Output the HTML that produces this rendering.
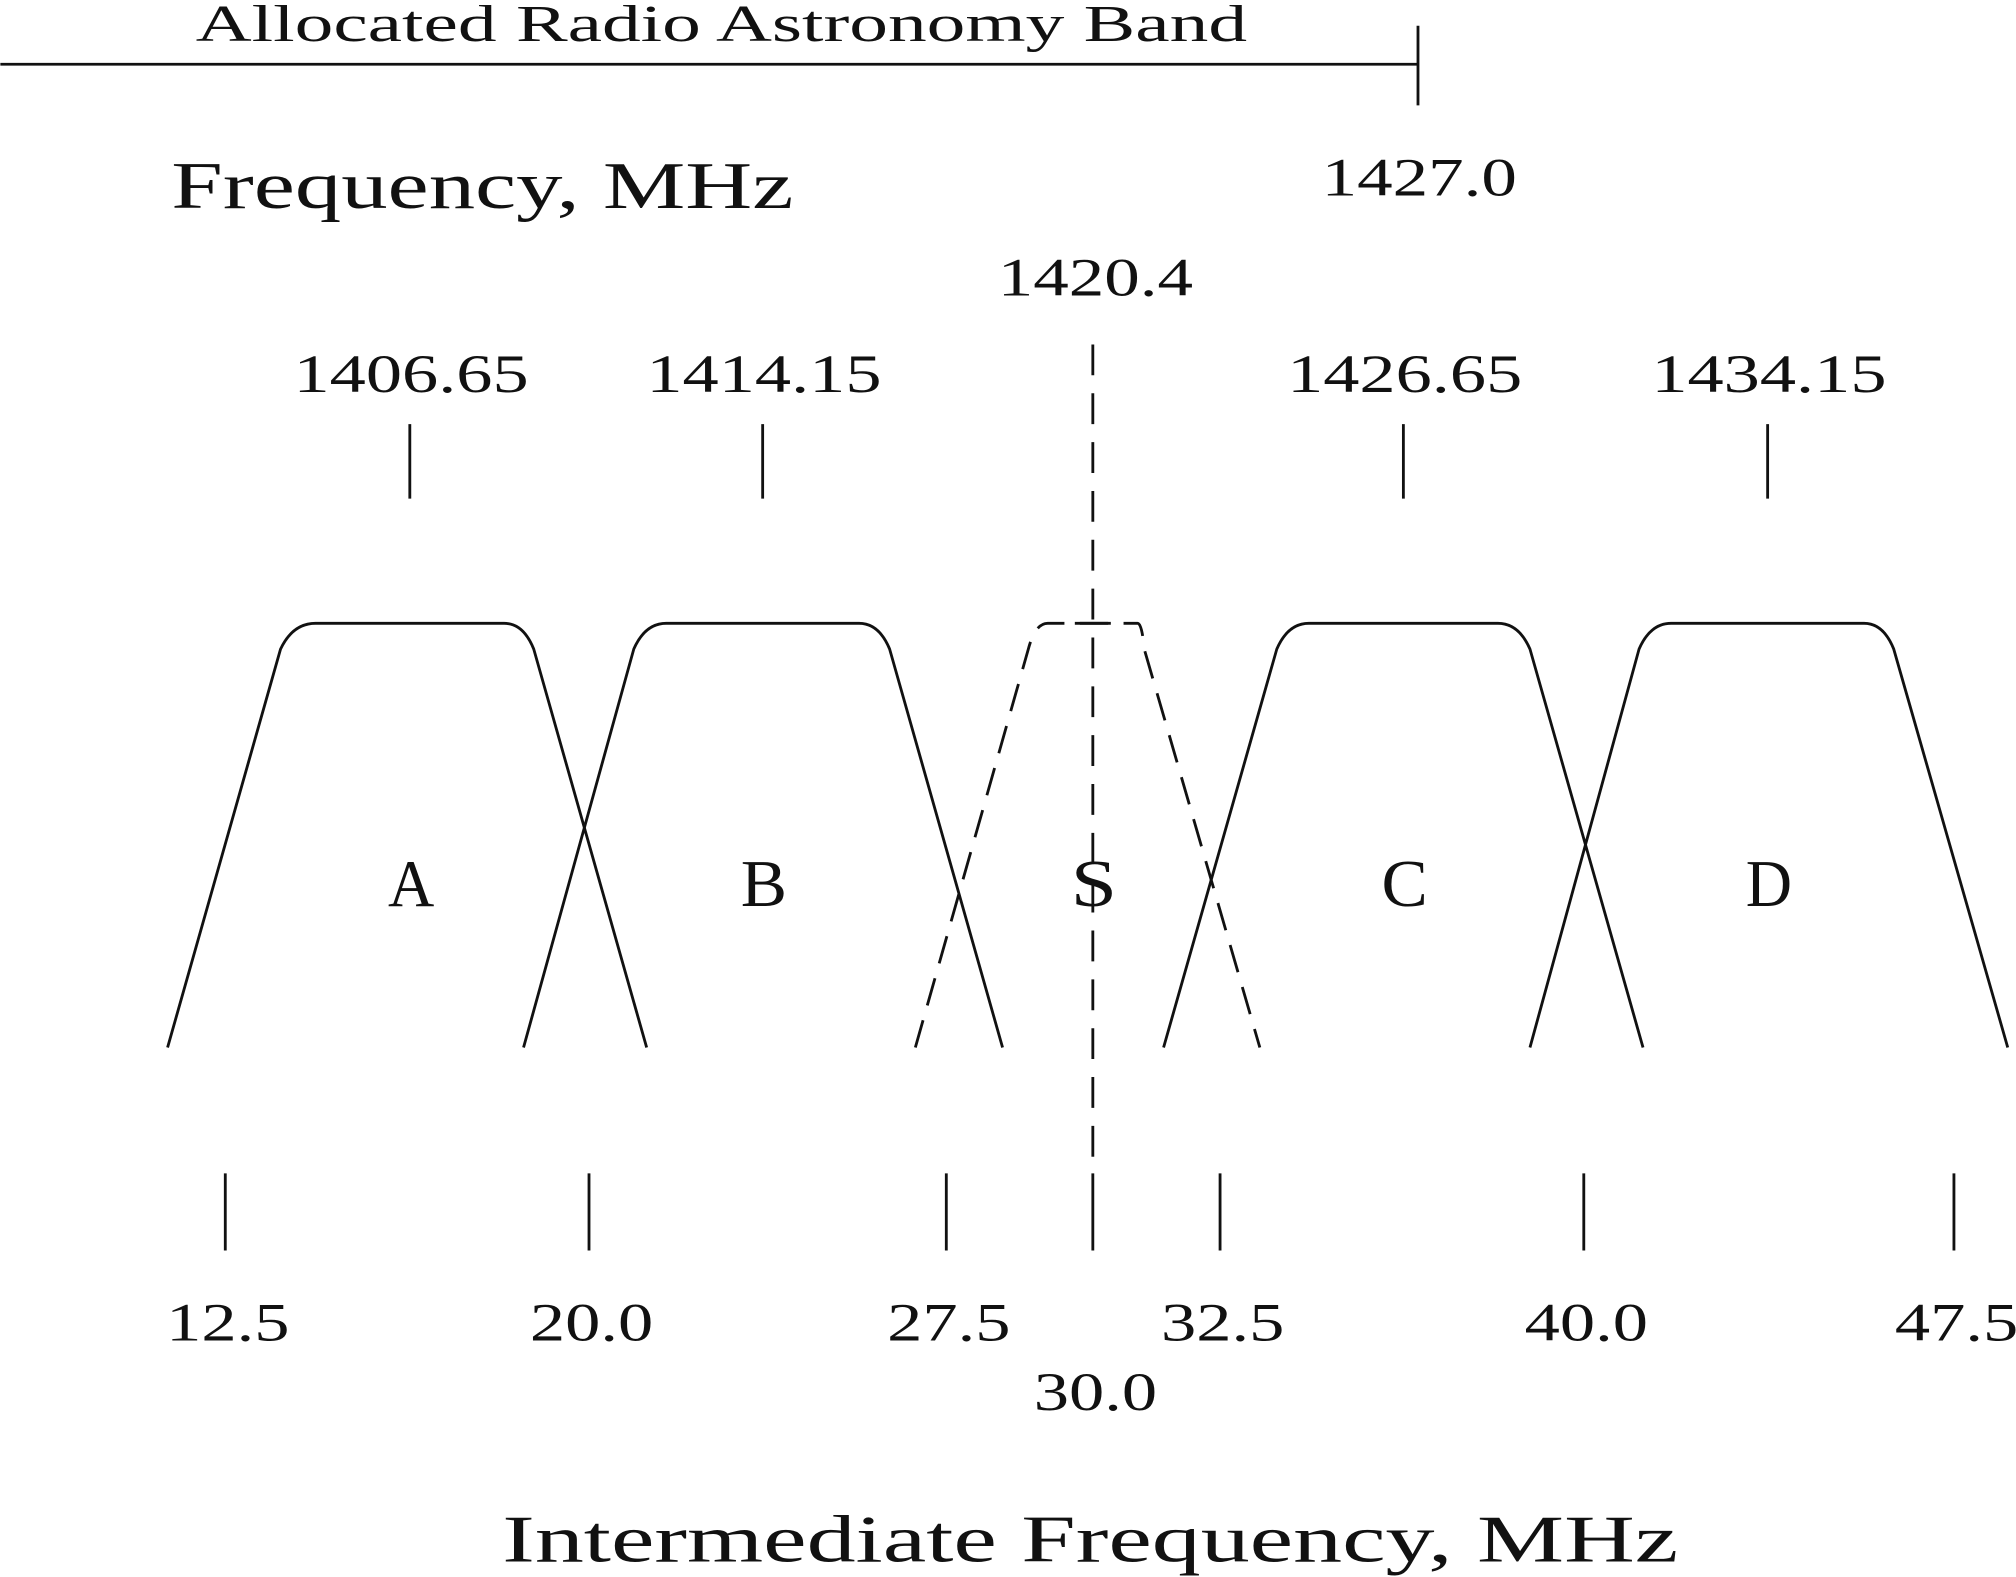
<!DOCTYPE html>
<html><head><meta charset="utf-8">
<style>
html,body{margin:0;padding:0;background:#fff;}
svg{display:block;}
text{font-family:"Liberation Serif",serif;fill:#111;}
</style></head>
<body>
<svg id="chart" width="2016" height="1577" viewBox="0 0 1568 1227" xmlns="http://www.w3.org/2000/svg">
<g id="g" stroke="#111" stroke-width="2.2" fill="none"></g>
<g id="t"></g>
</svg>
<script>
// IF axis ticks (MHz)
const ifTicks = [12.5, 20.0, 27.5, 30.0, 32.5, 40.0, 47.5];
const ifTickLabels = ["12.5", "20.0", "27.5", "30.0", "32.5", "40.0", "47.5"];
// filter names and edges in MHz: bottom-left, shoulder-left, top-left, top-right, shoulder-right, bottom-right
const filterNames = ["A", "B", "S", "C", "D"];
const filterBottomLeft = [11.31, 18.65, 26.85, 31.39, 38.89];
const filterShoulderLeft = [13.64, 20.94, 28.90, 33.67, 41.12];
const filterTopLeft = [14.36, 21.62, 29.23, 34.33, 41.77];
const filterTopRight = [18.25, 25.67, 30.88, 38.23, 45.68];
const filterShoulderRight = [18.86, 26.31, 31.01, 38.89, 46.28];
const filterBottomRight = [21.21, 28.46, 33.32, 41.20, 48.59];
const filterDashed = [false, false, true, false, false];
// RF centre labels (MHz) tied to filters A,B,C,D
const rfLabels = ["1406.65", "1414.15", "1426.65", "1434.15"];
const rfFilterIdx = [0, 1, 3, 4];

// schematic (piecewise-linear) IF axis scale, anchored at the tick values
const axisPx = [175, 458, 736, 850, 949, 1232, 1520];
function x(v) {
  const d = ifTicks;
  let i = 0;
  if (v <= d[0]) i = 0;
  else if (v >= d[d.length - 1]) i = d.length - 2;
  else { while (v > d[i + 1]) i++; }
  return axisPx[i] + (v - d[i]) * (axisPx[i + 1] - axisPx[i]) / (d[i + 1] - d[i]);
}
const NS = "http://www.w3.org/2000/svg";
const g = document.getElementById('g'), tg = document.getElementById('t');
function el(tag, attrs, parent) {
  const e = document.createElementNS(NS, tag);
  for (const k in attrs) e.setAttribute(k, attrs[k]);
  parent.appendChild(e); return e;
}
function txt(s, px, py, size, len, name) {
  const e = el('text', {x: px, y: py, 'font-size': size, 'text-anchor': 'middle', textLength: len, lengthAdjust: 'spacingAndGlyphs'}, tg);
  e.textContent = s;
  
  
  return e;
}
let l = el('line', {x1: 0, y1: 50, x2: 1103, y2: 50}, g);


l = el('line', {x1: 1103, y1: 20, x2: 1103, y2: 82}, g);


txt("Allocated Radio Astronomy Band", 561, 32, 40, 818, 'band-title');
txt("Frequency, MHz", 375, 162, 52, 484, 'rf-axis-title');
txt("1427.0", 1104, 152, 42, 152, 'band-edge-label');
txt("1420.4", 852, 230, 42, 152, 'hi-line-label');
txt("Intermediate Frequency, MHz", 848, 1215, 52, 915, 'if-axis-title');

const yTop = 485, yBot = 815, ySh = 505;
filterNames.forEach((n, i) => {
  const bl = x(filterBottomLeft[i]), sl = x(filterShoulderLeft[i]), tl = x(filterTopLeft[i]);
  const tr = x(filterTopRight[i]), sr = x(filterShoulderRight[i]), br = x(filterBottomRight[i]);
  const d = `M${bl},${yBot} L${sl},${ySh} Q${sl + (tl - sl) * 0.35},${yTop} ${tl},${yTop} L${tr},${yTop} Q${sr - (sr - tr) * 0.35},${yTop} ${sr},${ySh} L${br},${yBot}`;
  const p = el('path', {d: d}, g);
  if (filterDashed[i]) p.setAttribute('stroke-dasharray', '22 12');
  
  
  const c = (tl + tr) / 2;
  txt(n, c + 1, 705, 52, 36, 'filter-label-' + n.toLowerCase());
});
rfLabels.forEach((s, j) => {
  const k = rfFilterIdx[j];
  const c = (x(filterTopLeft[k]) + x(filterTopRight[k])) / 2;
  const t = el('line', {x1: c, y1: 330, x2: c, y2: 388}, g);
  
  
  txt(s, c + 1, 305, 42, 183, 'rf-label-' + s);
});
const hx = x(30.0);
l = el('line', {x1: hx, y1: 268, x2: hx, y2: 900, 'stroke-dasharray': '24 14'}, g);


l = el('line', {x1: hx - 14, y1: yTop, x2: hx + 14, y2: yTop}, g);


ifTicks.forEach((v, i) => {
  const px = x(v);
  const t = el('line', {x1: px, y1: 913, x2: px, y2: 973}, g);
  
  
  const yy = v === 30.0 ? 1097 : 1043;
  txt(ifTickLabels[i], px + 2, yy, 42, 96, 'if-label-' + ifTickLabels[i]);
});
</script>
</body></html>
